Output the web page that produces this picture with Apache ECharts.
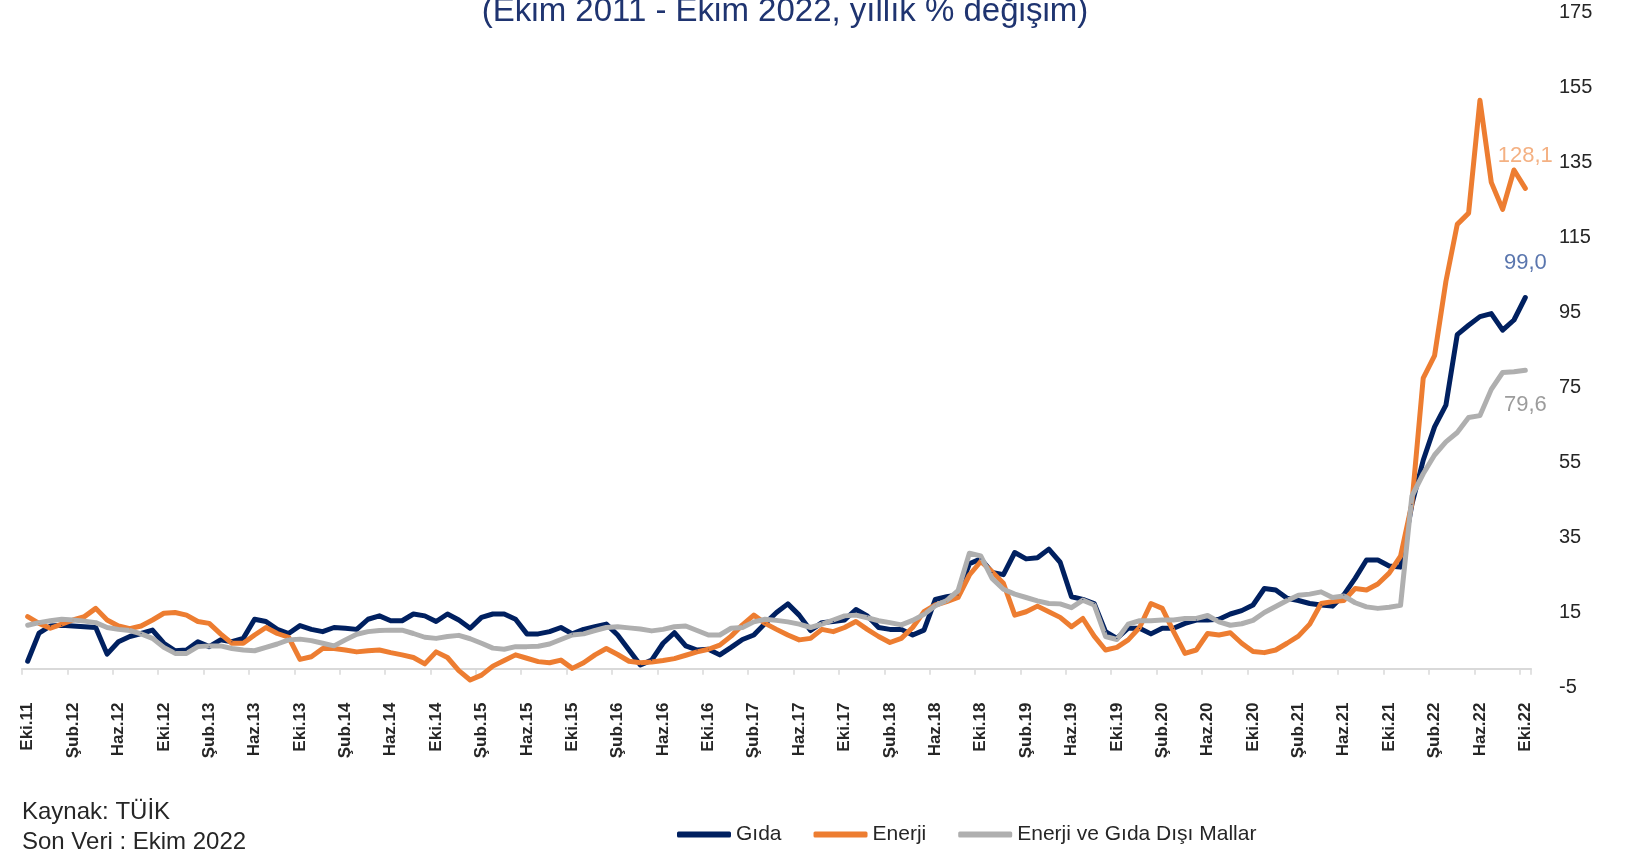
<!DOCTYPE html>
<html>
<head>
<meta charset="utf-8">
<script src="https://cdn.jsdelivr.net/npm/echarts@6/dist/echarts.min.js"></script>
<style>
  html, body { margin: 0; padding: 0; background: #fff; }
  #chart { width: 1638px; height: 849px; }
</style>
</head>
<body>
<div id="chart"></div>
<script>
// Yıllık % değişim, Ekim 2011 - Ekim 2022 (aylık, TÜİK)
const monthNames = ["Oca", "Şub", "Mar", "Nis", "May", "Haz", "Tem", "Ağu", "Eyl", "Eki", "Kas", "Ara"];
const startMonth = 9;   // Eki
const startYear = 11;   // 2011
const monthCount = 133;

const gida = [
  2.0, 9.5, 11.4, 11.6, 11.4, 11.2, 11.0, 3.9, 7.2, 8.6, 9.4, 10.3,
  6.8, 4.8, 5.0, 7.2, 5.9, 7.7, 7.2, 8.1, 13.2, 12.6, 10.5, 9.4,
  11.5, 10.5, 9.9, 11.0, 10.8, 10.5, 13.2, 14.1, 12.8, 12.8, 14.6, 14.1,
  12.6, 14.6, 13.0, 10.8, 13.7, 14.6, 14.6, 13.2, 9.3, 9.3, 9.9, 11.0,
  9.3, 10.5, 11.2, 11.9, 9.0, 5.0, 1.0, 2.3, 6.8, 9.6, 6.1, 5.0,
  5.2, 3.7, 5.7, 7.8, 9.0, 12.1, 15.0, 17.3, 14.3, 10.2, 12.3, 12.6,
  13.0, 15.8, 14.1, 11.0, 10.5, 10.5, 9.0, 10.3, 18.5, 19.2, 19.7, 28.0,
  29.3, 25.7, 25.1, 31.0, 29.3, 29.6, 31.9, 28.4, 19.2, 18.5, 17.4, 9.9,
  8.1, 10.8, 10.8, 9.3, 10.8, 10.8, 12.1, 13.0, 13.0, 13.2, 14.6, 15.5,
  17.0, 21.4, 21.0, 18.8, 18.2, 17.4, 17.0, 16.7, 19.7, 24.1, 29.0, 29.0,
  27.4, 27.1, 43.8, 55.6, 64.5, 70.3, 89.1, 91.6, 93.9, 94.7, 90.3, 93.0,
  99.0
];

const enerji = [
  13.9, 12.1, 10.8, 11.9, 13.0, 13.9, 16.1, 13.0, 11.4, 10.7, 11.4, 13.0,
  14.8, 15.0, 14.3, 12.6, 12.1, 9.3, 6.8, 6.8, 9.0, 11.0, 9.4, 8.4,
  2.5, 3.2, 5.4, 5.4, 5.0, 4.5, 4.8, 5.0, 4.3, 3.7, 3.0, 1.3,
  4.5, 3.0, -0.5, -3.0, -1.7, 0.7, 2.2, 3.7, 2.8, 1.9, 1.6, 2.3,
  0.1, 1.6, 3.7, 5.4, 3.8, 2.0, 1.6, 1.8, 2.2, 2.7, 3.6, 4.5,
  5.2, 6.3, 8.7, 11.7, 14.3, 12.1, 10.5, 9.0, 7.7, 8.1, 10.5, 9.9,
  11.0, 12.6, 10.5, 8.6, 7.0, 8.1, 11.0, 15.2, 17.0, 17.9, 19.0, 25.0,
  28.6, 25.9, 22.8, 14.3, 15.2, 16.7, 15.2, 13.7, 11.2, 13.4, 8.7, 5.0,
  5.7, 7.7, 11.0, 17.4, 16.1, 9.9, 4.1, 5.0, 9.4, 9.0, 9.6, 6.8,
  4.6, 4.3, 5.0, 6.8, 8.7, 11.9, 17.4, 17.9, 18.2, 21.4, 21.0, 22.6,
  25.5, 30.0, 44.0, 77.5, 83.5, 103.3, 118.5, 121.5, 151.6, 129.7, 122.5, 133.0,
  128.1
];

const digerMallar = [
  11.6, 12.3, 12.8, 13.2, 13.0, 12.7, 12.3, 11.0, 10.5, 10.2, 9.3, 8.1,
  5.7, 4.1, 4.1, 5.9, 6.1, 6.1, 5.4, 5.0, 4.8, 5.7, 6.6, 7.7,
  7.9, 7.5, 6.8, 6.1, 7.7, 9.2, 9.9, 10.2, 10.3, 10.3, 9.4, 8.4,
  8.1, 8.6, 8.9, 8.0, 6.8, 5.5, 5.2, 5.9, 5.9, 6.0, 6.6, 7.8,
  9.0, 9.3, 10.2, 11.0, 11.2, 10.9, 10.6, 10.1, 10.5, 11.2, 11.4, 10.2,
  9.0, 9.0, 10.8, 11.0, 12.5, 13.2, 12.9, 12.5, 11.9, 11.0, 11.9, 13.0,
  14.1, 14.3, 13.6, 12.8, 12.3, 11.7, 12.9, 14.5, 16.8, 18.2, 20.8, 30.8,
  30.1, 24.1, 21.2, 19.9, 19.0, 18.1, 17.4, 17.3, 16.3, 18.3, 17.0, 8.6,
  7.8, 11.9, 12.8, 12.8, 13.0, 13.0, 13.4, 13.4, 14.2, 12.5, 11.6, 12.0,
  12.9, 15.0, 16.6, 18.2, 19.6, 19.9, 20.5, 19.0, 19.4, 17.6, 16.5, 16.1,
  16.4, 16.9, 46.0, 52.0, 57.0, 60.5, 63.0, 67.0, 67.5, 74.5, 79.0, 79.2,
  79.6
];

const seriesNames = ["Gıda", "Enerji", "Enerji ve Gıda Dışı Mallar"];
const endLabels = ["99,0", "128,1", "79,6"];
const yMin = -5, yMax = 175, yStep = 20;

const FONT = "Liberation Sans";
const C_GIDA = "#002060";
const C_ENERJI = "#ED7D31";
const C_DIGER = "#AFAFAF";
const TEXT = "#262626";

const categories = [];
for (let k = 0; k < monthCount; k++) {
  const m = (startMonth + k) % 12;
  const y = startYear + Math.floor((startMonth + k) / 12);
  categories.push(monthNames[m] + "." + y);
}

// label only on the last point of each line
function withEndLabel(values, text, color, position, distance) {
  return values.map((v, i) => i === values.length - 1
    ? { value: v, label: { show: true, formatter: text, position: position, distance: distance,
        color: color, fontSize: 22, fontFamily: FONT } }
    : v);
}

function lineSeries(name, data, color) {
  return {
    name: name,
    type: "line",
    data: data,
    showSymbol: true,
    showAllSymbol: true,
    symbol: "circle",
    symbolSize: 1,
    itemStyle: { color: color },
    lineStyle: { width: 5, color: color, cap: "round", join: "round" },
    label: { show: false },
    emphasis: { disabled: true },
    animation: false
  };
}

const chart = echarts.init(document.getElementById("chart"));

chart.setOption({
  backgroundColor: "#fff",
  animation: false,
  grid: { left: 22, right: 107, top: 12.5, bottom: 161.5, outerBoundsMode: "none" },
  xAxis: [
    {
      type: "category",
      data: categories,
      boundaryGap: true,
      axisLine: { onZero: true, lineStyle: { color: "#D9D9D9", width: 2 } },
      axisTick: { show: true, interval: 3, length: 6, lineStyle: { color: "#D9D9D9", width: 1.5 } },
      axisLabel: { show: false },
      splitLine: { show: false }
    },
    {
      type: "category",
      data: categories,
      position: "bottom",
      boundaryGap: true,
      axisLine: { show: false, onZero: false },
      axisTick: { show: false },
      axisLabel: {
        interval: 3, rotate: 90, margin: 15,
        fontSize: 17, fontWeight: "bold", color: TEXT, fontFamily: FONT
      },
      splitLine: { show: false }
    }
  ],
  yAxis: {
    type: "value",
    position: "right",
    min: yMin, max: yMax, interval: yStep,
    axisLine: { show: false },
    axisTick: { show: false },
    splitLine: { show: false },
    axisLabel: { margin: 28, fontSize: 20, color: TEXT, fontFamily: FONT }
  },
  legend: {
    left: 672, top: 819,
    itemWidth: 54, itemHeight: 6, itemGap: 32,
    icon: "roundRect",
    selectedMode: false,
    textStyle: { fontSize: 21, color: TEXT, fontFamily: FONT },
    data: seriesNames
  },
  graphic: [
    { type: "text", x: 785, y: 11.5,
      style: { text: "(Ekim 2011 - Ekim 2022, yıllık % değişim)", fill: "#1F3470",
        font: "33px '" + FONT + "'", textAlign: "center", textVerticalAlign: "middle" } },
    { type: "text", x: 22, y: 812,
      style: { text: "Kaynak: TÜİK", fill: TEXT, font: "24px '" + FONT + "'",
        textAlign: "left", textVerticalAlign: "middle" } },
    { type: "text", x: 22, y: 842,
      style: { text: "Son Veri : Ekim 2022", fill: TEXT, font: "24px '" + FONT + "'",
        textAlign: "left", textVerticalAlign: "middle" } }
  ],
  series: [
    lineSeries(seriesNames[0], withEndLabel(gida, endLabels[0], "#5A76AE", "top", 23), C_GIDA),
    lineSeries(seriesNames[1], withEndLabel(enerji, endLabels[1], "#F4B183", "top", 21), C_ENERJI),
    lineSeries(seriesNames[2], withEndLabel(digerMallar, endLabels[2], "#9C9C9C", "bottom", 23), C_DIGER)
  ]
});
</script>
</body>
</html>
